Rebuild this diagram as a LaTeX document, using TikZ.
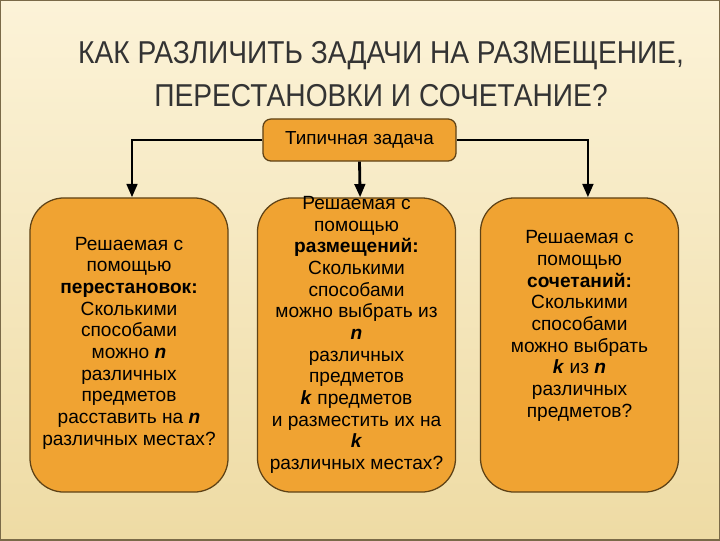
\documentclass[tikz,border=0pt]{standalone}
\usepackage{fontspec}
\setmainfont{Liberation Sans}
\newfontfamily\titlefont[FakeStretch=0.89]{Liberation Sans}
\usetikzlibrary{arrows.meta}

\definecolor{bgtop}{HTML}{FCF3D8}
\definecolor{bgbottom}{HTML}{EEDBA4}
\definecolor{framecol}{HTML}{7A6A48}
\definecolor{boxfill}{HTML}{F0A332}
\definecolor{boxline}{HTML}{5E4216}
\definecolor{titlegray}{HTML}{333333}

\newcommand{\nk}[1]{\textbf{\textit{#1}}}

\begin{document}
\begin{tikzpicture}[x=0.025cm,y=-0.025cm]
			\tikzstyle{task}= [
				rectangle, rounded corners=0.2cm, draw=boxline, fill=boxfill,
				line width=0.9pt, minimum width=4.825cm, minimum height=1.05cm,
				font=\fontsize{13.4pt}{15.4pt}\selectfont
			]
			\tikzstyle{way}= [
				rectangle, rounded corners=0.85cm, draw=boxline, fill=boxfill,
				line width=0.9pt, minimum width=4.95cm, minimum height=7.35cm
			]
			\tikzstyle{body}=[align=center, inner sep=0pt, font=\fontsize{13.6pt}{15.4pt}\selectfont]
			\tikzstyle{arrow}=[-{Triangle[length=9.5pt,width=7.5pt]},draw=black,line width=2pt]
			% background and frame
			\useasboundingbox (0,0) rectangle (720,540);
			\shade[top color=bgtop, bottom color=bgbottom] (0,0) rectangle (720,540);
			\draw[framecol, line width=1.4pt] (0,0) rectangle (720,540);
			% title
			\node[align=center, text=titlegray, font=\titlefont\fontsize{22.5pt}{30.5pt}\selectfont] (title) at (381,74)
				{КАК РАЗЛИЧИТЬ ЗАДАЧИ НА РАЗМЕЩЕНИЕ,\\ПЕРЕСТАНОВКИ И СОЧЕТАНИЕ?};
			% boxes
			\node[task] (task) at (359.5,140) {Типичная задача};
			\node[way] (perm) at (129,345) {};
			\node[way] (arr) at (356.5,345) {};
			\node[way] (comb) at (579.5,345) {};
			\node[body] (permtext) at (129,343) {Решаемая с\\помощью\\\textbf{перестановок:}\\Сколькими\\способами\\можно \nk{n}\\различных\\предметов\\расставить на \nk{n}\\различных местах?};
			\node[body] (arrtext) at (356.5,335) {Решаемая с\\помощью\\\textbf{размещений:}\\Сколькими\\способами\\можно выбрать из\\\nk{n}\\различных\\предметов\\\nk{k} предметов\\и разместить их на\\\nk{k}\\различных местах?};
			\node[body] (combtext) at (579.5,326) {Решаемая с\\помощью\\\textbf{сочетаний:}\\Сколькими\\способами\\можно выбрать\\\nk{k} из \nk{n}\\различных\\предметов?};
			% connectors
			\draw[arrow] (task.west) -| ([xshift=0.075cm]perm.north);
			\draw[arrow] (task.south) -- ([xshift=0.09cm]arr.north);
			\draw[arrow] (task.east) -| ([xshift=0.21cm]comb.north);
		\end{tikzpicture}
\end{document}
